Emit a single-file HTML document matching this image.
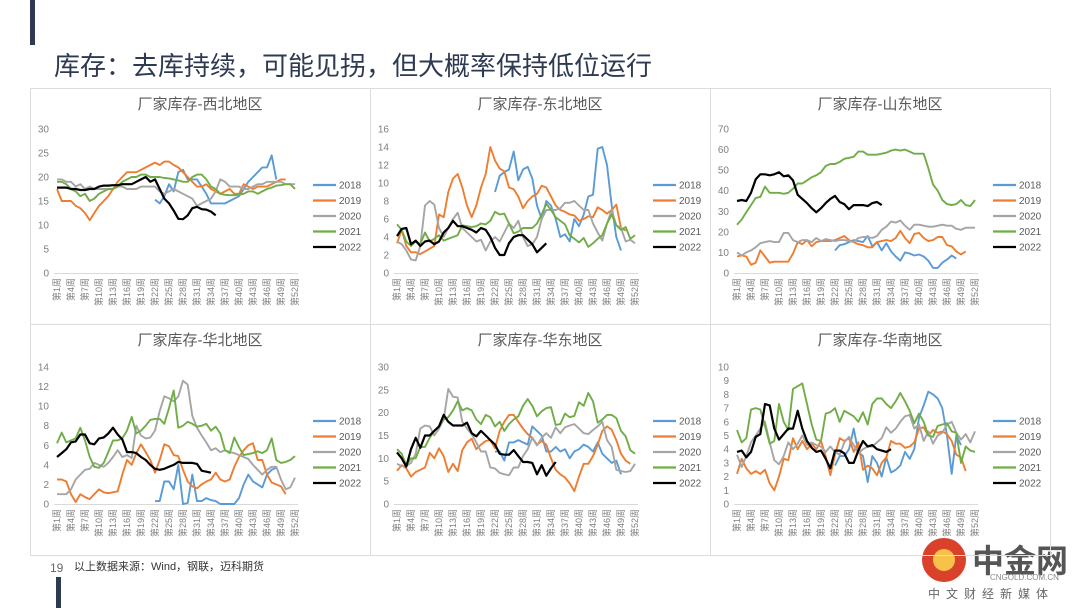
<!DOCTYPE html>
<html><head><meta charset="utf-8">
<style>
body{margin:0;width:1080px;height:608px;background:#fff;overflow:hidden;font-family:"Liberation Sans","Noto Sans CJK SC",sans-serif;}
svg{position:absolute;left:0;top:0}
</style></head>
<body>
<svg id="s" width="1080" height="608" viewBox="0 0 1080 608" xmlns="http://www.w3.org/2000/svg">
<rect x="30" y="0" width="5" height="45" fill="#2e3a52"/>
<text x="54" y="75" font-size="26" fill="#2e3a52" font-family="Liberation Sans, Noto Sans CJK SC, sans-serif">库存：去库持续，可能见拐，但大概率保持低位运行</text>
<rect x="56" y="577" width="5" height="31" fill="#2e3a52"/>
<text x="50" y="572" font-size="12" fill="#666">19</text>
<text x="74" y="570" font-size="11" fill="#333" font-family="Liberation Sans, Noto Sans CJK SC, sans-serif">以上数据来源：Wind，钢联，迈科期货</text>
<g>
<circle cx="944" cy="560" r="22" fill="#d9412b"/>
<circle cx="944" cy="560" r="11" fill="#f6c24a"/>
<text x="972" y="572" font-size="32" font-weight="bold" fill="#555" font-family="Noto Sans CJK SC, sans-serif">中金网</text>
<text x="990" y="580" font-size="8" fill="#888">CNGOLD.COM.CN</text>
<text x="928" y="598" font-size="12" fill="#666" letter-spacing="6" font-family="Noto Sans CJK SC, sans-serif">中文财经新媒体</text>
</g>
</svg>
<script>
const years = ["2018","2019","2020","2021","2022"];
const colors = ["#5b9bd5","#ed7d31","#a5a5a5","#70ad47","#000000"];
const weekLabels = ["第1周","第4周","第7周","第10周","第13周","第16周","第19周","第22周","第25周","第28周","第31周","第34周","第37周","第40周","第43周","第46周","第49周","第52周"];
const chartTitles = ["厂家库存-西北地区","厂家库存-东北地区","厂家库存-山东地区","厂家库存-华北地区","厂家库存-华东地区","厂家库存-华南地区"];
const yMaxes = [30,16,70,14,30,10];
const yStepsCount = [6,8,7,7,6,10];
const startWeeks = [[22,1,1,1,1],[22,1,1,1,1],[22,1,1,1,1],[22,1,1,1,1],[22,1,1,1,1],[22,1,1,1,1]];

const nw2018 = [15.3,14.5,16,18.5,17,21,21.5,19.5,19.5,19.5,18,16.5,14.5,14.5,14.5,14.5,15,15.5,16,17.5,19,20,21,22,22,24.5,19.5];
const nw2019 = [17.5,15,15,15,14,13.5,12.5,11,12.5,14,15,16,17.5,19,20,21,21,21,21.5,22,22.5,23,22.5,23.2,23.2,22.5,22,21,20,19,18,18,18.5,17.5,17,16.5,17,17.5,16.5,16.5,18.5,18,17.5,18,18,18,18.5,19,19.5,19.5];
const nw2020 = [19.5,19.5,19,19,18,18.5,17.5,18,17.5,17.5,17.5,17.5,17.5,18,18,17.5,17.5,17.5,18,18,18,18,17,16.5,17,17.5,17,16.5,16,15.5,14,14.5,15,15.5,17,19.5,19,18,18,18,17.5,17.5,18,18.5,18.5,19,19,19,19,18.5,18.5,18.5];
const nw2021 = [19,19,18.5,17.5,17,16,16.5,15,15.5,16.5,17,17.5,17.5,18,19,19.5,20,20,20.5,20.5,20,20,20,19.8,19.7,19.5,19.3,19,19,20,20.5,20.5,19.5,18,17.5,16.5,16.3,16.2,16.2,16.3,16.5,17,17,16.5,17,17.5,17.8,18.2,18.3,18.5,18.5,17.5];
const nw2022 = [17.8,17.8,17.8,17.5,17.5,17.3,17.3,17.5,17.5,18,18.2,18.2,18.3,18.3,18.5,18.5,18.5,19,19.5,20,19,19.5,17.5,15.5,14.5,13,11.3,11.2,12,13.5,13.8,13.3,13.2,12.8,12];

const ne2018 = [9,10.8,11.2,11.5,13.5,10.3,11.5,11.8,10.5,7.5,6,8,7.5,6,4,4.3,3.5,6,5.2,6.5,8.5,8.7,13.8,14,12,7.5,4,2.5];
const ne2019 = [3.3,4.8,3,2.3,2.3,2.1,2.4,2.7,3,6.5,6.2,9,10.5,11,9.5,7.5,6.2,7.5,9.5,11,14,12.5,11.6,11.3,9.5,9.3,8.5,7.2,8,8.5,8.8,9.7,9.5,8.5,7.5,7,6.8,6.5,6.4,5.8,6,6.3,6.2,7.3,7,6.6,7,7.6,5,4.7];
const ne2020 = [3.5,3.2,2.5,1.5,1.4,3,7.5,8,7.6,5,4,5,6,6.7,5,4.5,4,3.5,3.7,2.5,3.5,4,3.5,4.5,5.5,5,5.8,4,3,3.2,4,6,7,7,7,7.2,7.8,7.8,8,7.5,7,7,5.5,4.5,3.6,5.5,7,5.3,5,3.5,3.7,3.3];
const ne2021 = [5.4,4.8,3.5,3,3.5,3.2,4.5,3.5,3.8,4.2,3.6,3.8,4,4.2,5.3,5.2,5.1,5.2,5.5,5.4,5.8,6.8,6.5,6.6,5.5,4.4,4.6,5,5,5,5.5,6.5,7.7,7,6.2,5.8,5.4,4.2,3.8,3.4,3.9,2.9,3.3,3.8,4.2,5.5,6.5,5.3,4.8,5.1,3.8,4.2];
const ne2022 = [4.1,4.9,5,3.2,3.6,3,3.5,3.6,3.2,3.5,4.5,5,5.8,5.2,5.2,5,4.8,4.5,5,4.8,4,2.8,2,2,3.3,4,4.2,4.2,3.7,3.2,2.3,2.8,3.3];

const sd2018 = [11,13.5,14,15,16,15.5,15,18,13,15,11,14.5,10.5,8,6,10,9.5,8.5,9,8,6,2.5,2.5,5,6.5,8.5,7];
const sd2019 = [8,8.5,8,4,5,11,8,5,5.5,5.5,5.5,5.5,9.5,15,14,16,13,15,15.5,15.5,15.5,16,17,18,16,15,14,13.5,12.5,12.5,15,15.5,16,15.5,17,20.5,17,14.5,19,19.5,17,15.5,16,17.5,17.5,13.5,13,10.5,9,10.5];
const sd2020 = [10,8.5,10,11,12.5,14.5,15,15.5,15,15,19.5,19.5,16,15,16,16,15,17,15.5,16.5,16,15.5,16,16,15.5,15,17,17.5,17.5,17,18,21,22.5,25,24.5,25.5,23,21,23.5,23.5,23,22.5,22.5,23,23.5,23,23,21.5,21,22,22,22];
const sd2021 = [23.5,26,29.5,33,36.5,37,42,39,39,39,38.5,39,41,43.5,43.5,45,46.5,47.5,49,52,53,53,54,55.5,56,56.5,59,59,57.5,57.5,57.5,58,58.5,59.5,60,59.5,60,59,58,58,58,51,43,40,35.5,33.5,33,33.5,35.5,33,32.5,35.5];
const sd2022 = [35,35.5,35,39,45.5,48,48,47.5,48,49,47,47.5,45,38,36,34,31.5,29.5,31.5,34,36,37.5,34.5,33.5,31,33,33,33,32.5,34,34.5,33];

const nc2018 = [0.3,0.3,2.3,2.3,1.5,4,0,0.1,3,0.3,0.3,0.6,0.4,0.3,0,0,0,0,0.6,2,3,2.3,2,1.7,3,3.5,3.7];
const nc2019 = [2.5,2.5,2.3,1,0.2,1,0.7,0.5,1,1.5,1.2,1.1,1.2,1.3,3,4.5,4,5.2,6.1,5.3,4.5,3.2,4.5,6.1,5.9,5,4.9,3.5,2.3,1.8,1.6,2,2.3,2.5,3.2,2.5,2.3,2.5,3.8,4.8,5.5,6,6.2,4.5,4.5,3,2.2,2,1.8,1];
const nc2020 = [1,1,1,1.5,2.5,3,3.5,3.6,4.2,4,3.8,4.2,4.8,5.5,4.8,5,4.7,8,7,6.7,6.8,7.5,9.5,11,10.8,10.5,11,12.6,12.2,9,7.8,7,6.3,5.5,5.7,5.3,5.5,5.3,5.2,5,4.8,4.6,4,3.5,3,3.5,3.8,3.8,2.5,1.5,1.7,2.7];
const nc2021 = [6.2,7.3,6.3,6.5,6.7,7.8,6.5,4.8,3.8,3.7,4.2,5.3,6.5,6.5,6.7,7.5,8.9,7.2,7.5,8,8.6,8.7,8.7,8.2,9.8,11.6,7.8,8,8.4,8.2,7.9,8,8.2,7.5,7.9,7.2,5.5,5.2,6.8,5.8,5,5.1,5.2,5.4,5.2,5.5,6.7,4.5,4.2,4.3,4.5,4.9];
const nc2022 = [4.8,5.2,5.6,6.3,6.4,7.1,7.1,6.2,6.1,6.7,6.8,7.2,7.8,7.1,6.6,5.3,5.3,5.2,4.8,4.5,4,3.6,3.5,3.6,3.8,4,4.3,4.2,4.2,4.2,4.1,3.4,3.3,3.2];

const ec2018 = [11.5,11.5,9.5,13.5,13.5,14,13.5,13,17,16,15,11.5,11.5,12.5,11.5,12,10,11.5,12,13,12.5,11.5,13.5,11,10,9,9.5,6.5];
const ec2019 = [7.3,8.5,7.8,6,7,7.5,8,11.2,10,12.2,10.5,7,8.8,7.2,11.8,13.5,14.3,12,13,13.8,14,12.2,16,18,19.5,19.5,18,16.5,15.3,14.5,13,13.8,13,10,7.5,6.5,5.8,4.5,2.8,6,8.8,8.8,10.5,13,16,17,16.3,14,11,9.5,8.8];
const ec2020 = [8.8,8.3,8.3,9,11,16.5,17.2,17,15,16.5,18.5,25.2,23.5,23.3,18,16.5,15.3,13.5,11.5,11.5,8,7.8,6.8,6.5,6.3,8,8,10.5,12,14.5,12.8,14.5,15.5,14.5,16.8,15.5,16.8,17.2,17.5,16.5,15.5,15.3,16.2,17,18,14,12.5,7.5,7.2,7,7.2,8.8];
const ec2021 = [12,11,8.5,10,10,12.5,12.5,14.5,16,17,18.5,19,20.5,22.5,20.5,21,20.5,18.5,17.5,19.5,19,17,18,16,17.5,18.5,19.2,21.5,23,21.5,19.2,20.3,21,21.2,17.3,17.5,19.8,19,19.3,22.3,21.5,24.3,22.5,17.8,18.5,19.5,19.5,18.8,16,14.8,11.8,11];
const ec2022 = [11.3,10,8.2,12,14.5,12.3,15,15,16,17,19.5,18,17.2,17.2,17.2,17.8,15.5,14.8,16,15,14,13,11,10.8,10.8,11.8,10.5,9.2,9.2,9,6.5,8.5,6.2,7.8,9.2];

const sc2018 = [2.8,3.5,3.5,4,5.5,3.8,3.5,1.6,3.5,3,2,3.4,2.3,2.5,2.8,3.8,3.3,4,6.3,7.2,8.2,8,7.7,7,5,2.2,5,4.3];
const sc2019 = [2.2,3.3,2.6,2.2,2.4,2.2,2.5,1.5,1,2,3.3,3.2,4.8,4,4.6,4,4.4,4,4.6,3.5,2.1,3.6,4.8,4.6,4.8,3.8,4.5,2.5,2.8,2.6,2.1,3,3.4,4.6,4.4,4.4,4.1,4.2,4.5,5.5,5.6,5,5.4,5.2,5.3,5.1,4.6,3.6,3.4,2.4];
const sc2020 = [3.6,2.7,3.5,4.5,5,5.5,6,4.5,3.2,2.9,3.5,4.5,4,4.4,5,4.3,4.5,4.3,4.2,3.8,4.2,3.8,3.6,4.5,4.9,4.3,3.7,4,4.2,4.2,4.5,4.8,5.6,5.2,5.5,6,6.4,6.5,5.5,5.8,4.6,5.3,4.4,5,5.2,5.8,6,5.2,4.7,5.1,4.5,5.3];
const sc2021 = [5.4,4.5,4.8,6.9,7,6.9,5.7,4.4,4.6,7.3,6,5.4,8.4,8.6,8.8,7.3,5.8,4.7,4.6,6.6,6.7,7,6,6.8,6.6,6.4,6,6.7,5.8,7.3,7.7,7.7,7.3,7,7.5,8.1,7.5,6.8,5.9,6.6,6,5,4.9,5.7,5.8,5.9,5.3,5.2,3,4.2,3.9,3.8];
const sc2022 = [3.8,3.9,3.4,3.8,4.9,5.1,7.3,7.2,5.5,4.7,5.1,5.5,5.5,6.8,5.5,4.6,4.1,3.8,3.9,3.3,2.6,3.9,3.9,3.7,3,3,3.9,4.6,4.2,4.3,4,3.9,3.8,4];

const allSeries = [
  [nw2018,nw2019,nw2020,nw2021,nw2022],
  [ne2018,ne2019,ne2020,ne2021,ne2022],
  [sd2018,sd2019,sd2020,sd2021,sd2022],
  [nc2018,nc2019,nc2020,nc2021,nc2022],
  [ec2018,ec2019,ec2020,ec2021,ec2022],
  [sc2018,sc2019,sc2020,sc2021,sc2022]
];
const chartNames = ["northwest","northeast","shandong","north-china","east-china","south-china"];

const NS = "http://www.w3.org/2000/svg";
const svg = document.getElementById("s");
function mk(tag, attrs, parent){const e=document.createElementNS(NS,tag);for(const k in attrs)e.setAttribute(k,attrs[k]);(parent||svg).appendChild(e);return e;}

for(let c=0;c<6;c++){
  const col=c%3,row=Math.floor(c/3);
  const px=30+col*340, py=row===0?88:324;
  const panelH=row===0?236:231;
  const g=mk("g",{});
  
  
  const border=mk("rect",{x:px+0.5,y:py+0.5,width:340,height:panelH,fill:"none",stroke:"#dcdcdc","stroke-width":1},g);
  
  
  const t=mk("text",{x:px+170,y:py+21,"text-anchor":"middle","font-size":15,fill:"#595959","font-family":"Liberation Sans, Noto Sans CJK SC, sans-serif"},g);
  t.textContent=chartTitles[c];
  
  
  const yBase=row===0?273:504, yTop=row===0?129:367;
  const xL=px+27, xR=px+265;
  const xs=w=>xL+(w-1)*(xR-xL)/51;
  const ys=v=>yBase-v/yMaxes[c]*(yBase-yTop);
  const n=yStepsCount[c], step=yMaxes[c]/n;
  for(let i=0;i<=n;i++){
    const v=i*step;
    const tl=mk("text",{x:px+19,y:ys(v)+3.5,"text-anchor":"end","font-size":10,fill:"#7f7f7f"},g);
    tl.textContent=String(Math.round(v));
    
    
  }
  const ax=mk("line",{x1:px+24,x2:px+268,y1:yBase+0.5,y2:yBase+0.5,stroke:"#d9d9d9","stroke-width":1},g);
  
  
  weekLabels.forEach((lab,i)=>{
    const wk=1+i*3;
    const x=xs(wk)+3, y=yBase+5;
    const tl=mk("text",{x:x,y:y,"text-anchor":"end","font-size":9,fill:"#7f7f7f",transform:`rotate(-90 ${x} ${y})`,"font-family":"Liberation Sans, Noto Sans CJK SC, sans-serif"},g);
    tl.textContent=lab;
    
    
  });
  allSeries[c].forEach((arr,si)=>{
    const s0=startWeeks[c][si];
    const pts=arr.map((v,i)=>xs(s0+i).toFixed(1)+","+ys(v).toFixed(1)).join(" ");
    const pl=mk("polyline",{points:pts,fill:"none",stroke:colors[si],"stroke-width":si===4?2.2:1.9,"stroke-linejoin":"round"},g);
    
    
  });
  years.forEach((yr,si)=>{
    const ly=(row===0?185:421)+si*15.5;
    const lg=mk("g",{},g);
    
    
    mk("line",{x1:px+283,x2:px+306,y1:ly,y2:ly,stroke:colors[si],"stroke-width":2.2},lg);
    const lt=mk("text",{x:px+309,y:ly+3.5,"font-size":10,fill:"#595959"},lg);
    lt.textContent=yr;
  });
}
</script>
</body></html>
